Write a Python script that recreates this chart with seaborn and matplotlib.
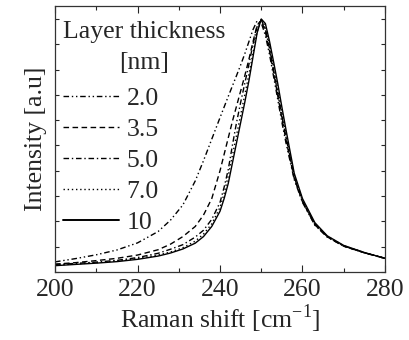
import numpy as np
import pandas as pd
import matplotlib
matplotlib.use("Agg")
import matplotlib.pyplot as plt
from matplotlib.ticker import MultipleLocator, NullFormatter
import seaborn as sns

# Raman shift grid [cm^-1]
shift = [200, 205, 210, 215, 220, 225, 228, 231, 234, 236, 238, 240, 241, 242, 243,
         244, 245, 246, 247, 248, 249, 250, 251, 252, 253, 254, 255, 256, 258, 260,
         263, 266, 270, 275, 280]

# Normalised intensities, one list per layer thickness
i_2_0 = [0.040, 0.053, 0.068, 0.087, 0.115, 0.160, 0.205, 0.265, 0.360, 0.440, 0.525,
         0.610, 0.652, 0.694, 0.735, 0.776, 0.818, 0.862, 0.910, 0.958, 0.993, 0.985,
         0.935, 0.860, 0.772, 0.682, 0.592, 0.510, 0.365, 0.275, 0.185, 0.138, 0.102,
         0.076, 0.054]
i_3_5 = [0.031, 0.037, 0.045, 0.054, 0.067, 0.088, 0.110, 0.140, 0.180, 0.225, 0.290,
         0.400, 0.465, 0.530, 0.595, 0.655, 0.715, 0.775, 0.840, 0.910, 0.975, 0.995,
         0.950, 0.875, 0.788, 0.698, 0.607, 0.522, 0.370, 0.278, 0.187, 0.139, 0.102,
         0.076, 0.054]
i_5_0 = [0.030, 0.034, 0.039, 0.046, 0.057, 0.074, 0.090, 0.108, 0.138, 0.165, 0.208,
         0.275, 0.335, 0.405, 0.500, 0.590, 0.670, 0.745, 0.820, 0.900, 0.970, 0.998,
         0.958, 0.885, 0.798, 0.707, 0.617, 0.532, 0.375, 0.280, 0.188, 0.140, 0.103,
         0.076, 0.054]
i_7_0 = [0.027, 0.032, 0.037, 0.044, 0.053, 0.067, 0.079, 0.096, 0.122, 0.150, 0.190,
         0.255, 0.310, 0.380, 0.460, 0.540, 0.620, 0.700, 0.780, 0.865, 0.950, 0.998,
         0.970, 0.898, 0.812, 0.722, 0.632, 0.542, 0.380, 0.285, 0.190, 0.141, 0.104,
         0.077, 0.054]
i_10 = [0.025, 0.030, 0.035, 0.041, 0.050, 0.063, 0.075, 0.091, 0.114, 0.140, 0.180,
        0.240, 0.290, 0.350, 0.430, 0.510, 0.590, 0.670, 0.755, 0.850, 0.945, 1.000,
        0.982, 0.912, 0.830, 0.745, 0.652, 0.562, 0.390, 0.290, 0.195, 0.143, 0.105,
        0.077, 0.054]

labels = ["2.0", "3.5", "5.0", "7.0", "10"]
series = [i_2_0, i_3_5, i_5_0, i_7_0, i_10]
x_ticks = [200, 220, 240, 260, 280]

df = pd.concat([pd.DataFrame({"shift": shift, "intensity": s, "thickness": lab})
                for lab, s in zip(labels, series)], ignore_index=True)

sns.set_style("ticks")
plt.rcParams["font.family"] = ["Liberation Serif", "DejaVu Serif"]
plt.rcParams["mathtext.fontset"] = "custom"
plt.rcParams["mathtext.rm"] = "Liberation Serif"

FS = 18.5

fig = plt.figure(figsize=(4.09, 3.40), dpi=100)
ax = fig.add_axes([0.1345, 0.2, 0.8068, 0.7824])

dashes = {"2.0": (4, 2, 1, 2, 1, 2), "3.5": (4, 2.5), "5.0": (4, 2, 1, 2),
          "7.0": (1, 2), "10": ""}
palette = {lab: "black" for lab in labels}
sns.lineplot(data=df, x="shift", y="intensity", hue="thickness", style="thickness",
             hue_order=labels, style_order=labels, palette=palette, dashes=dashes,
             linewidth=1.0, ax=ax, legend=True)
for line in ax.get_lines():
    if line.get_label() == "10":
        line.set_linewidth(1.4)

ax.set_xlim(200, 280)
ax.set_ylim(0, 1.0514)
ax.set_xticks(x_ticks)
ax.xaxis.set_minor_locator(MultipleLocator(10))
ax.yaxis.set_major_locator(MultipleLocator(0.1))
ax.yaxis.set_major_formatter(NullFormatter())
ax.tick_params(axis="x", which="major", direction="in", length=5, width=0.8,
               top=True, labelsize=FS, pad=5)
ax.tick_params(axis="x", which="minor", direction="in", length=3, width=0.8, top=True)
ax.tick_params(axis="y", which="major", direction="in", length=3, width=0.8,
               right=True, labelleft=False)
for sp in ax.spines.values():
    sp.set_linewidth(0.9)
    sp.set_color("#333333")

ax.set_xlabel("Raman shift [cm$^{\\mathregular{-1}}$]", fontsize=FS, labelpad=1)
ax.set_ylabel("Intensity [a.u]", fontsize=FS, labelpad=6)

handles, labs = ax.get_legend_handles_labels()
for h in handles:
    if h.get_label() == "10":
        h.set_linewidth(1.4)
leg = ax.legend(handles, labs, title="Layer thickness\n[nm]", loc="upper left",
                bbox_to_anchor=(-0.024, 1.0), frameon=False, fontsize=FS,
                title_fontsize=FS, handlelength=2.2, handletextpad=0.3,
                labelspacing=0.31, borderaxespad=0.45, borderpad=0.15,
                alignment="left")
leg.get_title().set_multialignment("center")
leg.get_title().set_linespacing(1.5)
leg._legend_box.sep = leg._legend_box.sep + 3.5

fig.savefig("out.png", dpi=100)
